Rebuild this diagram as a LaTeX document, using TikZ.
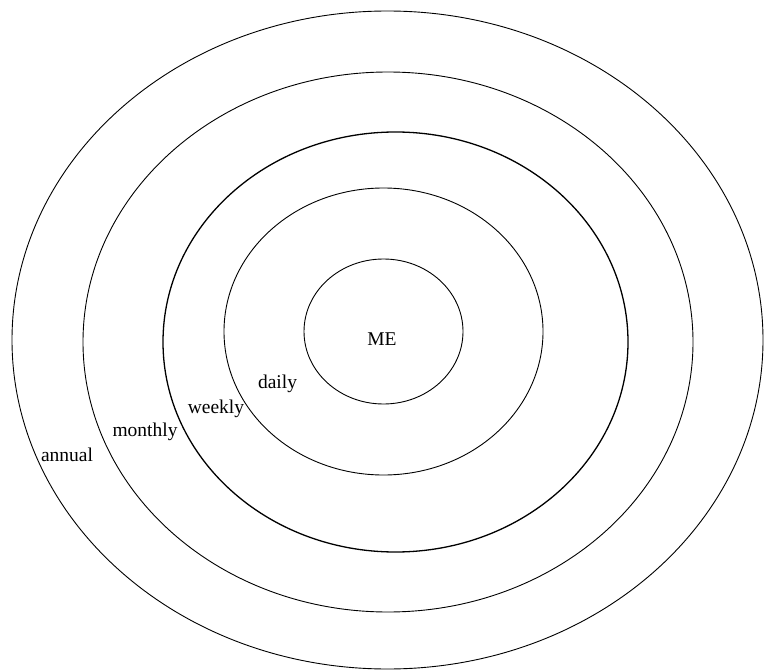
\documentclass[tikz,border=0pt]{standalone}
\usepackage{fontspec}
\setmainfont{Liberation Serif}
\usepackage{tikz}
\usetikzlibrary{positioning}

\begin{document}
\begin{tikzpicture}[
    x=1pt, y=-1pt,
    ring/.style={
        draw=black,
        line width=0.9pt
    },
    tag/.style={
        font=\fontsize{19.5}{23}\selectfont,
        inner sep=0pt
    }
]
\useasboundingbox (0,0) rectangle (771,671);

%-----------------------------------
% Rings
%-----------------------------------
\draw[ring] (387.5,340) ellipse [x radius=375.5pt, y radius=329pt];
\draw[ring] (388,342) ellipse [x radius=305pt, y radius=270pt];
\draw[ring, line width=1.3pt] (395.5,342) ellipse [x radius=232.5pt, y radius=210pt];
\draw[ring] (383.5,331.5) ellipse [x radius=159.5pt, y radius=143.5pt];
\draw[ring] (383.5,331.5) ellipse [x radius=79.5pt, y radius=72.5pt];

%-----------------------------------
% Labels
%-----------------------------------
\node[tag] (me) at (382,339) {ME};
\node[tag] (daily) at (277.5,384) {daily};
\node[tag] (weekly) at (216,409) {weekly};
\node[tag] (monthly) at (145,432) {monthly};
\node[tag] (annual) at (67,455) {annual};

\end{tikzpicture}
\end{document}
